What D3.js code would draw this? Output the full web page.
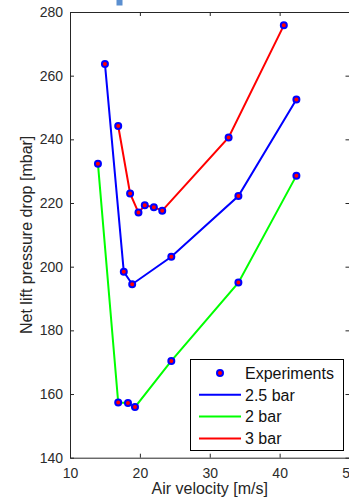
<!DOCTYPE html>
<html>
<head>
<meta charset="utf-8">
<script src="https://cdn.jsdelivr.net/npm/d3@7"></script>
<style>
  html, body { margin: 0; padding: 0; background: #fff; }
  svg { display: block; font-family: "Liberation Sans", Arial, sans-serif; }
  .tick text { fill: #2b2b2b; }
</style>
</head>
<body>
<div id="app"></div>
<script>
const WIDTH = 349;
const HEIGHT = 499;

// air velocity [m/s] and net lift pressure drop [mbar] per supply pressure
const bar25X = [15.0, 17.7, 18.9, 24.5, 34.1, 42.4];
const bar25Y = [263.7, 198.4, 194.5, 203.1, 222.2, 252.5];

const bar2X = [14.0, 16.9, 18.3, 19.3, 24.5, 34.1, 42.4];
const bar2Y = [232.3, 157.3, 157.2, 155.9, 170.4, 195.0, 228.6];

const bar3X = [16.9, 18.6, 19.8, 20.7, 22.0, 23.2, 32.7, 40.6];
const bar3Y = [244.2, 223.0, 217.0, 219.3, 218.7, 217.6, 240.6, 275.8];

const xTicks = [10, 20, 30, 40, 50];
const yTicks = [140, 160, 180, 200, 220, 240, 260, 280];

const series = [
  { name: "2.5 bar", color: "#0000ff", x: bar25X, y: bar25Y },
  { name: "2 bar", color: "#00ff00", x: bar2X, y: bar2Y },
  { name: "3 bar", color: "#ff0000", x: bar3X, y: bar3Y },
];

const margin = { left: 70, top: 12, right: 349.5, bottom: 457.7 };

const x = d3.scaleLinear().domain([10, 50]).range([margin.left, margin.right]);
const y = d3.scaleLinear().domain([140, 280]).range([margin.bottom, margin.top]);

const svg = d3.select("#app").append("svg")
  .attr("width", WIDTH)
  .attr("height", HEIGHT);

// stray fragment from the figure above
svg.append("rect")
  .attr("x", 116.5).attr("y", 0)
  .attr("width", 6).attr("height", 5.5)
  .attr("fill", "#5b8fd0");

const axisColor = "#262626";

function styleAxis(g) {
  g.select(".domain").attr("stroke", axisColor);
  g.selectAll(".tick line").attr("stroke", axisColor);
}

svg.append("g")
  .attr("transform", `translate(0,${margin.bottom})`)
  .call(d3.axisBottom(x).tickValues(xTicks).tickSize(-4).tickSizeOuter(0).tickPadding(8))
  .call(styleAxis)
  .call(g => g.selectAll(".tick text").attr("font-size", 14).attr("dy", "0.85em"));

svg.append("g")
  .attr("transform", `translate(0,${margin.top})`)
  .call(d3.axisTop(x).tickValues(xTicks).tickSize(-4).tickSizeOuter(0).tickFormat(""))
  .call(styleAxis);

svg.append("g")
  .attr("transform", `translate(${margin.left},0)`)
  .call(d3.axisLeft(y).tickValues(yTicks).tickSize(-4).tickSizeOuter(0).tickPadding(7))
  .call(styleAxis)
  .call(g => g.selectAll(".tick text").attr("font-size", 14));

svg.append("g")
  .attr("transform", `translate(${margin.right},0)`)
  .call(d3.axisRight(y).tickValues(yTicks).tickSize(-4).tickSizeOuter(0).tickFormat(""))
  .call(styleAxis);

// lines
const line = d3.line().x(d => x(d[0])).y(d => y(d[1]));

svg.append("g").attr("id", "lines")
  .selectAll("path")
  .data(series)
  .join("path")
  .attr("fill", "none")
  .attr("stroke", d => d.color)
  .attr("stroke-width", 2)
  .attr("d", d => line(d3.zip(d.x, d.y)));

// experiment markers
const points = series.flatMap(s => d3.zip(s.x, s.y));

svg.append("g").attr("id", "markers")
  .selectAll("circle")
  .data(points)
  .join("circle")
  .attr("cx", d => x(d[0]))
  .attr("cy", d => y(d[1]))
  .attr("r", 3)
  .attr("fill", "#ff0000")
  .attr("stroke", "#0000ff")
  .attr("stroke-width", 2);

// axis labels
svg.append("text")
  .attr("x", (margin.left + margin.right) / 2)
  .attr("y", 494)
  .attr("text-anchor", "middle")
  .attr("font-size", 16)
  .attr("fill", axisColor)
  .text("Air velocity [m/s]");

svg.append("text")
  .attr("transform", `translate(32,${(margin.top + margin.bottom) / 2}) rotate(-90)`)
  .attr("text-anchor", "middle")
  .attr("font-size", 16)
  .attr("fill", axisColor)
  .text("Net lift pressure drop [mbar]");

// legend
const legend = svg.append("g").attr("transform", "translate(190.5,359.5)");

legend.append("rect")
  .attr("width", 153).attr("height", 91)
  .attr("fill", "#fff")
  .attr("stroke", "#000")
  .attr("stroke-width", 1);

const rows = [{ name: "Experiments", marker: true }].concat(series);

const row = legend.selectAll("g.row")
  .data(rows)
  .join("g")
  .attr("class", "row")
  .attr("transform", (d, i) => `translate(0,${13.5 + i * 21.8})`);

row.filter(d => d.marker).append("circle")
  .attr("cx", 29.5).attr("r", 3)
  .attr("fill", "#ff0000").attr("stroke", "#0000ff").attr("stroke-width", 2);

row.filter(d => !d.marker).append("line")
  .attr("x1", 8.5).attr("x2", 50.5)
  .attr("stroke", d => d.color)
  .attr("stroke-width", 2);

row.append("text")
  .attr("x", 54.5)
  .attr("dy", "0.36em")
  .attr("font-size", 16)
  .attr("fill", "#111")
  .text(d => d.name);
</script>
</body>
</html>
